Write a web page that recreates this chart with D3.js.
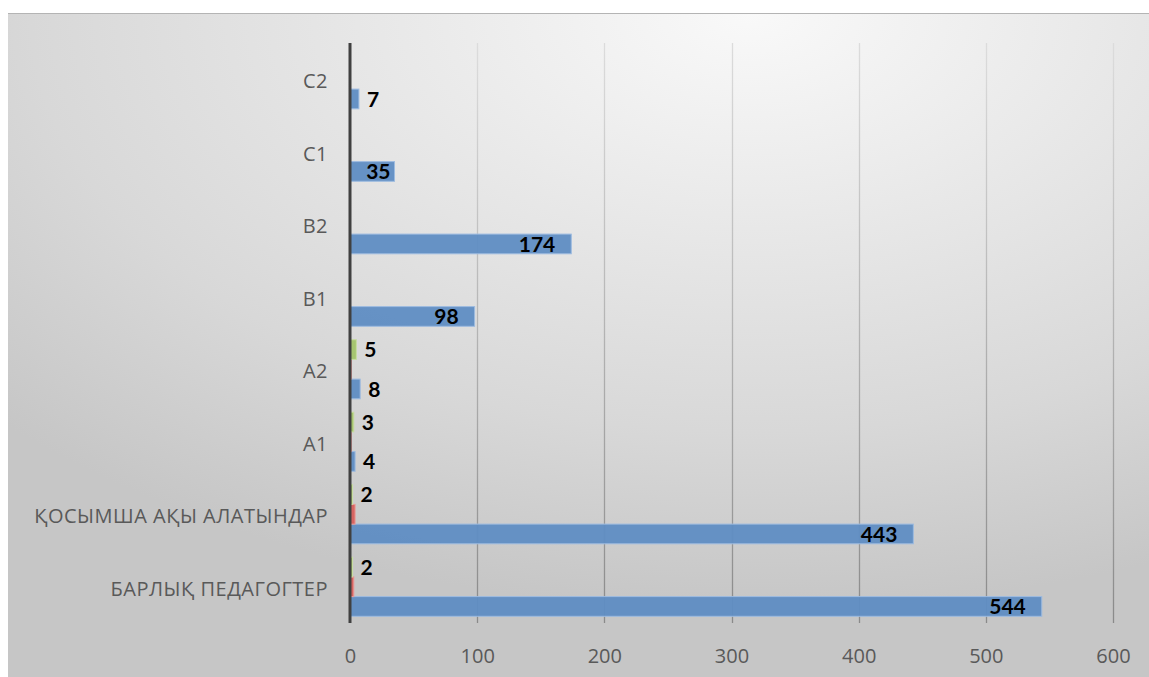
<!DOCTYPE html>
<html>
<head>
<meta charset="utf-8">
<script src="https://cdn.jsdelivr.net/npm/d3@7"></script>
<style>
  html, body { margin: 0; padding: 0; background: #ffffff; }
  svg { display: block; }
</style>
</head>
<body>
<svg id="chart" width="1149" height="677"></svg>
<script>
// Categories listed bottom-to-top, as they appear on the vertical axis
const categories = ["БАРЛЫҚ ПЕДАГОГТЕР", "ҚОСЫМША АҚЫ АЛАТЫНДАР", "A1", "A2", "B1", "B2", "C1", "C2"];
const seriesBlue  = [544, 443, 4, 8, 98, 174, 35, 7];
const seriesRed   = [3, 4, 1, 1, 0, 0, 0, 0];
const seriesGreen = [2, 2, 3, 5, 0, 0, 0, 0];
const xTicks = [0, 100, 200, 300, 400, 500, 600];

const svg = d3.select("#chart");
const W = 1149, H = 677;

// Background panel with a soft radial shading
const defs = svg.append("defs");
const bg = defs.append("radialGradient").attr("id", "bgGrad")
  .attr("cx", 0.65).attr("cy", 0).attr("r", 0.9).attr("fx", 0.65).attr("fy", 0);
bg.append("stop").attr("offset", 0).attr("stop-color", "#f9f9f9");
bg.append("stop").attr("offset", 0.7).attr("stop-color", "#d8d8d8");
bg.append("stop").attr("offset", 1).attr("stop-color", "#c6c6c6");

const gridGrad = defs.append("linearGradient").attr("id", "gridGrad")
  .attr("gradientUnits", "userSpaceOnUse")
  .attr("x1", 0).attr("y1", 43).attr("x2", 0).attr("y2", 623);
gridGrad.append("stop").attr("offset", 0).attr("stop-color", "#dcdcdc");
gridGrad.append("stop").attr("offset", 1).attr("stop-color", "#8a8a8a");

svg.append("rect").attr("x", 8).attr("y", 13).attr("width", W - 8).attr("height", H - 13)
  .attr("fill", "url(#bgGrad)");
svg.append("line").attr("x1", 8).attr("x2", W).attr("y1", 13.5).attr("y2", 13.5)
  .attr("stroke", "#b4b4b4").attr("stroke-width", 1);

const plot = { left: 350, right: 1113, top: 43, bottom: 623 };

const x = d3.scaleLinear().domain([0, 600]).range([plot.left, plot.right]);
const y = d3.scaleBand().domain(categories).range([plot.bottom, plot.top]).paddingInner(0.185).paddingOuter(0.0925);
const series = [
  { name: "s1", values: seriesBlue,  fill: "#5f8dc3", stroke: "#9dbbe0" },
  { name: "s2", values: seriesRed,   fill: "#d65f5c", stroke: "#e99a98" },
  { name: "s3", values: seriesGreen, fill: "#a3c46a", stroke: "#c8dda2" }
];
// Series stack within a category: first series at the bottom
const ySub = d3.scaleBand().domain([2, 1, 0]).range([0, y.bandwidth()]);

// Vertical gridlines
svg.append("g").selectAll("line").data(xTicks.filter(t => t > 0)).join("line")
  .attr("x1", d => Math.round(x(d)) + 0.5).attr("x2", d => Math.round(x(d)) + 0.5)
  .attr("y1", plot.top).attr("y2", plot.bottom)
  .attr("stroke", "url(#gridGrad)").attr("stroke-width", 1.3);

// Bars
series.forEach((s, si) => {
  svg.append("g").selectAll("rect").data(s.values.map((v, i) => ({ v, c: categories[i] })))
    .join("rect")
    .attr("x", x(0))
    .attr("y", d => y(d.c) + ySub(si))
    .attr("width", d => Math.max(0, x(d.v) - x(0)))
    .attr("height", ySub.bandwidth())
    .attr("fill", s.fill).attr("fill-opacity", 0.95)
    .attr("stroke", d => d.v > 0 ? s.stroke : "none").attr("stroke-width", 1);
});

// Zero axis line
svg.append("line").attr("x1", x(0)).attr("x2", x(0)).attr("y1", plot.top).attr("y2", plot.bottom)
  .attr("stroke", "#404040").attr("stroke-width", 3);

// Axis labels
const xAxisG = svg.append("g").attr("transform", `translate(0,${plot.bottom})`)
  .call(d3.axisBottom(x).tickValues(xTicks).tickSize(0).tickPadding(22));
xAxisG.select(".domain").remove();
xAxisG.selectAll("text").attr("font-family", "Open Sans").attr("font-size", 20)
  .attr("fill", "#595959").attr("dy", "0.9em");

const yAxisG = svg.append("g").attr("transform", `translate(${plot.left},0)`)
  .call(d3.axisLeft(y).tickSize(0).tickPadding(22));
yAxisG.select(".domain").remove();
yAxisG.selectAll("text").attr("font-family", "Open Sans").attr("font-size", 20)
  .attr("letter-spacing", "0.5px")
  .attr("fill", "#595959").attr("dy", "0.45em");

// Value labels for the blue and green series
const labelFont = "Lato";
function addLabels(values, si) {
  values.forEach((v, i) => {
    if (v <= 0) return;
    const c = categories[i];
    const cy = y(c) + ySub(si) + ySub.bandwidth() / 2;
    const barW = x(v) - x(0);
    const inside = barW > 38;
    const pad = barW > 60 ? 16 : 4;
    svg.append("text")
      .attr("x", inside ? x(v) - pad : x(v) + 8)
      .attr("y", cy)
      .attr("dy", "0.36em")
      .attr("text-anchor", inside ? "end" : "start")
      .attr("font-family", labelFont).attr("font-weight", "bold").attr("font-size", 21)
      .attr("fill", "#000000")
      .text(v);
  });
}
addLabels(seriesBlue, 0);
addLabels(seriesGreen, 2);
</script>
</body>
</html>
